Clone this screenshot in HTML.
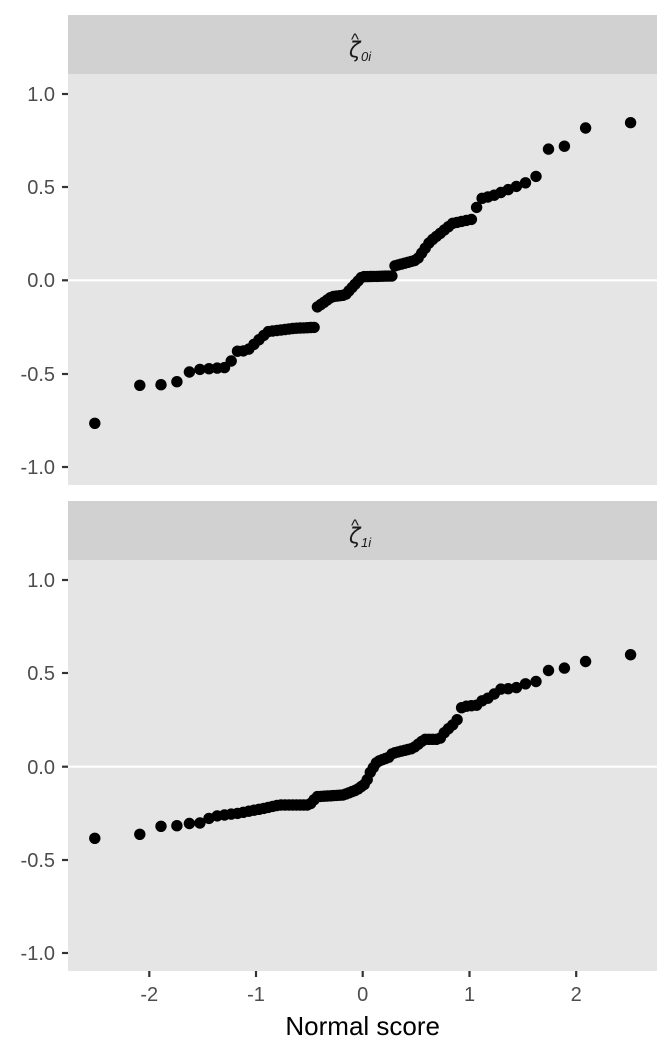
<!DOCTYPE html>
<html><head><meta charset="utf-8"><style>
html,body{margin:0;padding:0;background:#fff;}
svg{display:block;font-family:"Liberation Sans",Arial,sans-serif;}
</style></head><body>
<svg id="s" width="672" height="1056" viewBox="0 0 672 1056" xmlns="http://www.w3.org/2000/svg">
<rect x="0" y="0" width="672" height="1056" fill="#fff"/>
<rect x="68" y="15" width="589" height="59" fill="#d1d1d1"/>
<rect x="68" y="74" width="589" height="411" fill="#e5e5e5"/>
<line x1="68" x2="657" y1="280.3" y2="280.3" stroke="#fff" stroke-width="2.2"/>
<rect x="68" y="501" width="589" height="59" fill="#d1d1d1"/>
<rect x="68" y="560" width="589" height="411" fill="#e5e5e5"/>
<line x1="68" x2="657" y1="766.7" y2="766.7" stroke="#fff" stroke-width="2.2"/>
<g fill="#1a1a1a">
<text x="349" y="57" font-size="21" font-style="italic" font-family="DejaVu Sans,sans-serif">ζ</text>
<text x="351" y="45" font-size="17">^</text>
<text x="361" y="61" font-size="13" font-style="italic">0i</text>
<text x="349" y="543" font-size="21" font-style="italic" font-family="DejaVu Sans,sans-serif">ζ</text>
<text x="351" y="531" font-size="17">^</text>
<text x="361" y="547" font-size="13" font-style="italic">1i</text>
</g>
<g fill="#4d4d4d" font-size="20" text-anchor="end">
<text x="55" y="101">1.0</text><text x="55" y="194">0.5</text><text x="55" y="287">0.0</text><text x="55" y="381">-0.5</text><text x="55" y="474">-1.0</text>
<text x="55" y="587">1.0</text><text x="55" y="680">0.5</text><text x="55" y="774">0.0</text><text x="55" y="867">-0.5</text><text x="55" y="960">-1.0</text>
</g>
<g stroke="#333" stroke-width="2.2">
<line x1="62" x2="68" y1="94" y2="94"/><line x1="62" x2="68" y1="187" y2="187"/><line x1="62" x2="68" y1="280.3" y2="280.3"/><line x1="62" x2="68" y1="374" y2="374"/><line x1="62" x2="68" y1="467" y2="467"/>
<line x1="62" x2="68" y1="580" y2="580"/><line x1="62" x2="68" y1="673" y2="673"/><line x1="62" x2="68" y1="766.7" y2="766.7"/><line x1="62" x2="68" y1="860" y2="860"/><line x1="62" x2="68" y1="953" y2="953"/>
<line x1="149.3" x2="149.3" y1="971" y2="977"/><line x1="256" x2="256" y1="971" y2="977"/><line x1="362.7" x2="362.7" y1="971" y2="977"/><line x1="469.5" x2="469.5" y1="971" y2="977"/><line x1="576.2" x2="576.2" y1="971" y2="977"/>
</g>
<g fill="#4d4d4d" font-size="20" text-anchor="middle">
<text x="149.3" y="1001">-2</text><text x="256" y="1001">-1</text><text x="362.7" y="1001">0</text><text x="469.5" y="1001">1</text><text x="576.2" y="1001">2</text>
</g>
<text x="362.7" y="1035" font-size="26" text-anchor="middle" fill="#000">Normal score</text>
<g id="pts" fill="#000"></g>
</svg>
<script>
function qn(p){var a=[-39.69683028665376,220.9460984245205,-275.9285104469687,138.3577518672690,-30.66479806614716,2.506628277459239],b=[-54.47609879822406,161.5858368580409,-155.6989798598866,66.80113188418,-13.28068155288572],c=[-0.007784894002430293,-0.3223964580411365,-2.400758277161838,-2.549732539343734,4.374664141464968,2.938163982698783],d=[0.007784695709041462,0.3224671290700398,2.445134137142996,3.754408661907416];var q,r;
if(p<0.02425){q=Math.sqrt(-2*Math.log(p));return(((((c[0]*q+c[1])*q+c[2])*q+c[3])*q+c[4])*q+c[5])/((((d[0]*q+d[1])*q+d[2])*q+d[3])*q+1);}
if(p>1-0.02425){q=Math.sqrt(-2*Math.log(1-p));return-(((((c[0]*q+c[1])*q+c[2])*q+c[3])*q+c[4])*q+c[5])/((((d[0]*q+d[1])*q+d[2])*q+d[3])*q+1);}
q=p-0.5;r=q*q;return(((((a[0]*r+a[1])*r+a[2])*r+a[3])*r+a[4])*r+a[5])*q/(((((b[0]*r+b[1])*r+b[2])*r+b[3])*r+b[4])*r+1);}
var P1=[[71,940],[190,826],[251,824],[294,814],[328,780],[425,772],[445,724],[475,722],[530,665],[600,655],[655,652],[660,592],[700,560],[735,555],[780,500],[860,498],[865,468],[925,450],[960,395],[1020,340],[1075,327],[1090,267],[1125,258],[1210,220],[1238,208],[1271,118],[1315,110],[1377,50],[1495,38]];
var P2=[[71,595],[190,583],[251,557],[294,557],[328,549],[358,549],[380,530],[450,520],[520,505],[560,495],[640,495],[660,470],[730,465],[765,450],[790,430],[800,400],[820,365],[855,350],[860,340],[915,325],[945,298],[985,298],[1000,275],[1020,255],[1035,235],[1045,200],[1090,195],[1100,180],[1125,170],[1140,148],[1185,145],[1210,132],[1238,128],[1271,92],[1315,85],[1377,63],[1495,44]];
function conv(P,oy){return P.map(function(p){return[68+p[0]/2.6525,oy+p[1]/3];});}
function interp(L,x){if(x<=L[0][0])return L[0][1];for(var i=1;i<L.length;i++){if(x<=L[i][0]){var t=(x-L[i-1][0])/(L[i][0]-L[i-1][0]);return L[i-1][1]+t*(L[i][1]-L[i-1][1]);}}return L[L.length-1][1];}
var g=document.getElementById('pts'),n=88,h='';
[conv(P1,110),conv(P2,640)].forEach(function(L){L[0][0]=94.7;L[L.length-1][0]=630.3;
for(var i=1;i<=n;i++){var z=qn((i-0.375)/(n+0.25));if(i==1)z=-2.51;if(i==n)z=2.51;var x=362.7+z*106.75;h+='<circle cx="'+x.toFixed(1)+'" cy="'+interp(L,x).toFixed(1)+'" r="5.7"/>';}});
g.innerHTML=h;
</script>
</body></html>
